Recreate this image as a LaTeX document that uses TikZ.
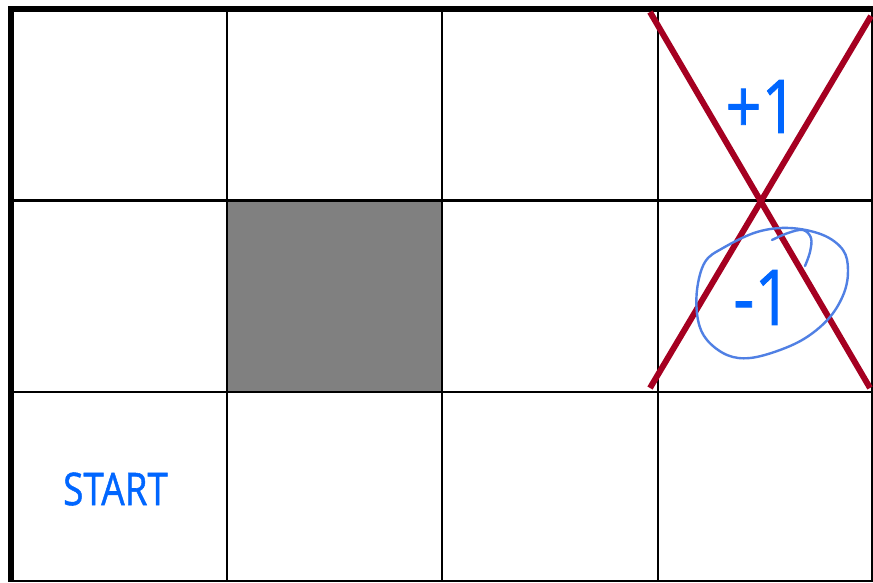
\documentclass[tikz,border=0pt]{standalone}
\usepackage{fontspec}
\setmainfont{Open Sans}
\newfontfamily\labelfont{Open Sans}[FakeBold=1.2]
\usepackage{graphicx}
\definecolor{crossred}{RGB}{165,0,33}
\definecolor{txtblue}{RGB}{0,102,255}
\definecolor{penblue}{RGB}{80,128,228}
\definecolor{wallgray}{RGB}{128,128,128}
\tikzset{
  thinline/.style={draw=black, line width=2.2pt},
  thickline/.style={draw=black, line width=6pt},
  crossline/.style={draw=crossred, line width=6pt},
  penline/.style={draw=penblue, line width=2.4pt, line cap=round, line join=round},
  label/.style={inner sep=0pt, outer sep=0pt, text=txtblue, anchor=center},
}
\begin{document}
\begin{tikzpicture}[x=1pt,y=-1pt]
\useasboundingbox (0,0) rectangle (873,582);
\fill[white] (0,0) rectangle (873,582);
% wall
\fill[wallgray] (227,200) rectangle (442,392);
% grid
\draw[thinline] (227,9) -- (227,582);
\draw[thinline] (442,9) -- (442,582);
\draw[thinline] (658,9) -- (658,582);
\draw[thinline] (872,9) -- (872,582);
\draw[thinline] (11,200.5) -- (873,200.5);
\draw[thinline] (11,392) -- (873,392);
\draw[thinline] (11,581) -- (873,581);
\draw[thickline] (8,9) -- (873,9);
\draw[thickline] (11,6) -- (11,582);
% labels
\node[label, font=\labelfont\fontsize{74}{74}\selectfont] (plus) at (761.5,106.5) {\scalebox{0.85}[1]{+1}};
\node[label, font=\labelfont\fontsize{77}{77}\selectfont] (minus) at (762.5,297.5) {\scalebox{0.85}[1]{-1}};
\node[label, font=\labelfont\fontsize{45}{45}\selectfont] (start) at (115.5,489) {\scalebox{0.82}[1]{START}};
% red cross
\coordinate (c1a) at (650,12);
\coordinate (c1b) at (870,388);
\coordinate (c2a) at (871,16);
\coordinate (c2b) at (650,388);
\draw[crossline] (c1a) -- (c1b);
\draw[crossline] (c2a) -- (c2b);
% hand-drawn circle
\draw[penline] plot[smooth cycle, tension=0.6] coordinates {
  (697,290) (705,262) (723,248) (757,232) (790,228) (823,235) (843,250) (848,270)
  (844,293) (830,317) (807,337) (780,350) (750,358) (727,355) (707,340) (698,320)};
\draw[penline] plot[smooth, tension=0.6] coordinates {
  (772,240) (788,233) (803,230) (811,238) (810,252) (805,266)};
\end{tikzpicture}
\end{document}
